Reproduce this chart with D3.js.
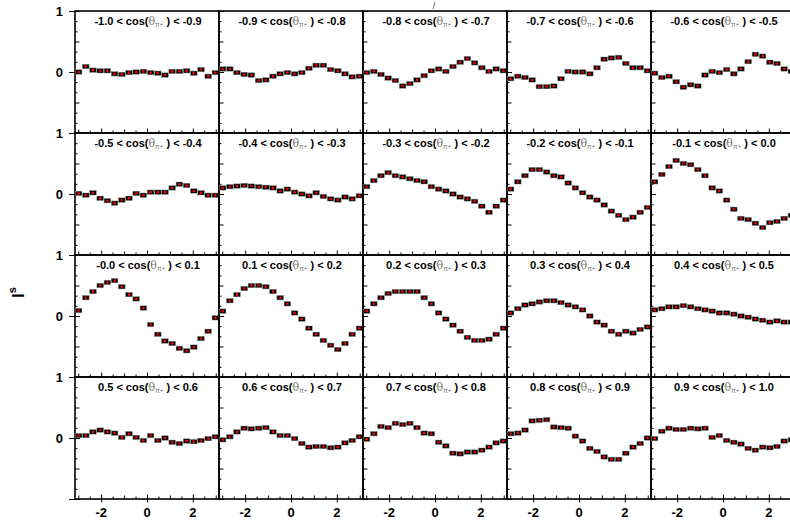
<!DOCTYPE html>
<html>
<head>
<meta charset="utf-8">
<script src="https://cdn.jsdelivr.net/npm/d3@7"></script>
<style>
  body { margin: 0; background: #fff; }
</style>
</head>
<body>
<svg id="chart" width="790" height="520"></svg>
<script>
// cos(theta) bin edges, one panel per bin
const cosLow  = ["-1.0","-0.9","-0.8","-0.7","-0.6","-0.5","-0.4","-0.3","-0.2","-0.1",
                 "-0.0","0.1","0.2","0.3","0.4","0.5","0.6","0.7","0.8","0.9"];
const cosHigh = ["-0.9","-0.8","-0.7","-0.6","-0.5","-0.4","-0.3","-0.2","-0.1","0.0",
                 "0.1","0.2","0.3","0.4","0.5","0.6","0.7","0.8","0.9","1.0"];

// I^s in 20 phi bins, per panel
const s01 = [0.00, 0.09, 0.03, 0.02, 0.02, -0.03, -0.04, -0.01, 0.00, 0.01, -0.01, -0.02, -0.05, 0.01, 0.01, 0.02, -0.02, 0.04, -0.07, -0.01];
const s02 = [0.05, 0.05, -0.01, -0.04, -0.05, -0.14, -0.13, -0.07, -0.03, -0.01, -0.03, -0.01, 0.06, 0.11, 0.11, 0.04, 0.02, -0.03, -0.08, -0.07];
const s03 = [-0.01, 0.01, -0.04, -0.10, -0.14, -0.23, -0.19, -0.13, -0.06, 0.02, 0.05, 0.01, 0.09, 0.16, 0.22, 0.15, 0.07, 0.01, 0.05, 0.02];
const s04 = [-0.11, -0.07, -0.09, -0.13, -0.24, -0.24, -0.23, -0.11, 0.01, 0.00, 0.00, -0.03, 0.07, 0.21, 0.23, 0.24, 0.14, 0.07, 0.07, 0.02];
const s05 = [-0.02, -0.09, -0.07, -0.16, -0.25, -0.21, -0.23, -0.05, 0.01, -0.01, 0.04, -0.03, 0.05, 0.17, 0.29, 0.26, 0.16, 0.14, 0.05, 0.01];
const s06 = [0.01, -0.02, 0.02, -0.07, -0.11, -0.15, -0.10, -0.07, 0.01, -0.02, 0.03, 0.03, 0.03, 0.10, 0.16, 0.14, 0.05, 0.02, -0.02, -0.02];
const s07 = [0.10, 0.12, 0.13, 0.14, 0.13, 0.12, 0.11, 0.10, 0.05, 0.08, 0.03, 0.00, -0.03, 0.02, -0.04, -0.08, -0.10, -0.05, -0.08, -0.03];
const s08 = [0.12, 0.22, 0.30, 0.35, 0.30, 0.28, 0.25, 0.22, 0.20, 0.12, 0.08, 0.05, 0.00, -0.05, -0.08, -0.12, -0.20, -0.30, -0.20, -0.10];
const s09 = [0.08, 0.20, 0.30, 0.40, 0.40, 0.36, 0.30, 0.28, 0.18, 0.10, 0.02, -0.05, -0.10, -0.18, -0.28, -0.35, -0.42, -0.38, -0.30, -0.22];
const s10 = [0.20, 0.32, 0.45, 0.55, 0.50, 0.48, 0.40, 0.30, 0.10, 0.05, -0.10, -0.25, -0.40, -0.42, -0.48, -0.55, -0.47, -0.45, -0.40, -0.35];
const s11 = [0.09, 0.30, 0.40, 0.50, 0.55, 0.58, 0.48, 0.35, 0.28, 0.13, -0.14, -0.30, -0.41, -0.45, -0.53, -0.57, -0.51, -0.37, -0.25, -0.03];
const s12 = [0.08, 0.25, 0.35, 0.45, 0.50, 0.50, 0.48, 0.40, 0.30, 0.20, 0.05, -0.05, -0.20, -0.30, -0.40, -0.48, -0.55, -0.45, -0.30, -0.20];
const s13 = [0.08, 0.20, 0.30, 0.37, 0.40, 0.40, 0.40, 0.40, 0.30, 0.20, 0.05, -0.05, -0.15, -0.25, -0.35, -0.40, -0.40, -0.38, -0.30, -0.20];
const s14 = [0.05, 0.12, 0.18, 0.20, 0.23, 0.25, 0.25, 0.22, 0.18, 0.15, 0.10, 0.00, -0.10, -0.15, -0.25, -0.30, -0.25, -0.28, -0.22, -0.18];
const s15 = [0.10, 0.12, 0.15, 0.15, 0.17, 0.15, 0.12, 0.10, 0.08, 0.05, 0.05, 0.03, 0.00, -0.02, -0.05, -0.07, -0.10, -0.08, -0.10, -0.10];
const s16 = [0.04, 0.04, 0.10, 0.13, 0.10, 0.08, 0.01, 0.07, 0.01, -0.04, 0.04, -0.04, 0.00, -0.07, -0.09, -0.05, -0.06, -0.04, -0.01, 0.02];
const s17 = [-0.03, 0.02, 0.10, 0.16, 0.15, 0.16, 0.17, 0.10, 0.04, 0.04, -0.01, -0.09, -0.15, -0.14, -0.14, -0.16, -0.15, -0.08, -0.04, 0.02];
const s18 = [-0.02, 0.07, 0.19, 0.17, 0.24, 0.22, 0.24, 0.17, 0.08, 0.07, -0.07, -0.13, -0.25, -0.26, -0.23, -0.23, -0.20, -0.15, -0.08, -0.05];
const s19 = [0.07, 0.08, 0.13, 0.28, 0.29, 0.30, 0.18, 0.17, 0.16, 0.03, -0.05, -0.17, -0.22, -0.31, -0.35, -0.35, -0.25, -0.15, -0.09, 0.00];
const s20 = [-0.01, 0.11, 0.16, 0.14, 0.14, 0.16, 0.15, 0.16, 0.01, 0.04, -0.04, -0.07, -0.10, -0.17, -0.20, -0.15, -0.16, -0.14, -0.05, -0.03];

const series = [s01, s02, s03, s04, s05, s06, s07, s08, s09, s10,
                s11, s12, s13, s14, s15, s16, s17, s18, s19, s20];

const xTickLabels = [-2, 0, 2];
const yTickLabels = [0, 1];

(function() {
  const svg = d3.select("#chart");
  const font = "'Liberation Sans', Arial, Helvetica, sans-serif";

  const left = 75, top = 11, pw = 144, ph = 122, nCols = 5;
  const nRows = Math.ceil(series.length / nCols);
  const nBins = s01.length;
  const binCenters = d3.range(nBins).map(i => -Math.PI + (i + 0.5) * 2 * Math.PI / nBins);

  // inside tick sets
  const yMinor = d3.range(-6, 7).filter(k => k % 3 !== 0).map(k => k / 6);
  const yMid = [-0.5, 0.5];
  const yMajor = [-1, 0, 1];
  const xMinor = [-2.5, -1.5, -0.5, 0.5, 1.5, 2.5];
  const xMid = [-3, -1, 1, 3];

  function clean(g) {
    g.select(".domain").remove();
    g.selectAll(".tick line").attr("stroke", "#000").attr("stroke-width", 1);
    g.selectAll(".tick text").remove();
  }

  series.forEach((vals, k) => {
    const col = k % nCols, row = Math.floor(k / nCols);
    const x0 = left + col * pw, y0 = top + row * ph;

    const x = d3.scaleLinear().domain([-Math.PI, Math.PI]).range([x0, x0 + pw]);
    const y = d3.scaleLinear().domain([-1, 1]).range([y0 + ph, y0]);

    const g = svg.append("g");

    // left axis ticks
    g.append("g").attr("transform", `translate(${x0},0)`)
      .call(d3.axisLeft(y).tickValues(yMinor).tickSize(-2.5)).call(clean);
    g.append("g").attr("transform", `translate(${x0},0)`)
      .call(d3.axisLeft(y).tickValues(yMid).tickSize(-4.5)).call(clean);
    g.append("g").attr("transform", `translate(${x0},0)`)
      .call(d3.axisLeft(y).tickValues(yMajor).tickSize(-5)).call(clean);
    if (col === 0) {
      g.append("g").attr("transform", `translate(${x0},0)`)
        .call(d3.axisLeft(y).tickValues(yMajor).tickSize(6)).call(clean);
    }

    // bottom axis ticks
    g.append("g").attr("transform", `translate(0,${y0 + ph})`)
      .call(d3.axisBottom(x).tickValues(xMinor).tickSize(-2.5)).call(clean);
    g.append("g").attr("transform", `translate(0,${y0 + ph})`)
      .call(d3.axisBottom(x).tickValues(xMid).tickSize(-3.5)).call(clean);
    g.append("g").attr("transform", `translate(0,${y0 + ph})`)
      .call(d3.axisBottom(x).tickValues(xTickLabels).tickSize(-4.5)).call(clean);
    if (row === nRows - 1) {
      g.append("g").attr("transform", `translate(0,${y0 + ph})`)
        .call(d3.axisBottom(x).tickValues(xTickLabels).tickSize(3.5)).call(clean);
    }

    // frame
    g.append("rect")
      .attr("x", x0).attr("y", y0)
      .attr("width", pw).attr("height", ph)
      .attr("fill", "none").attr("stroke", "#000").attr("stroke-width", 1.6);

    // y tick labels on first column
    if (col === 0) {
      g.selectAll(".ylab").data(yTickLabels).enter().append("text")
        .attr("x", x0 - 12).attr("y", d => y(d))
        .attr("dy", "0.36em")
        .attr("text-anchor", "end")
        .style("font-family", font).style("font-weight", "bold").style("font-size", "13px")
        .text(d => d);
    }

    // x tick labels on bottom row
    if (row === nRows - 1) {
      g.selectAll(".xlab").data(xTickLabels).enter().append("text")
        .attr("x", d => x(d)).attr("y", y0 + ph + 18)
        .attr("text-anchor", "middle")
        .style("font-family", font).style("font-weight", "bold").style("font-size", "13px")
        .text(d => d);
    }

    // panel label
    const lab = g.append("text")
      .attr("x", x0 + pw / 2 + 1).attr("y", y0 + 14)
      .attr("text-anchor", "middle")
      .style("font-family", font).style("font-size", "11px").style("font-weight", "bold");
    lab.append("tspan").text(`${cosLow[k]} < cos(`);
    lab.append("tspan").text("\u03b8").attr("fill", "#777").style("font-weight", "normal").style("font-family", "'DejaVu Serif', serif");
    lab.append("tspan").text("\u03c0+").attr("fill", "#777").style("font-weight", "normal")
      .style("font-size", "6.5px").attr("dy", 2);
    lab.append("tspan").text(` ) < ${cosHigh[k]}`).attr("dy", -2);

    // points
    const pts = g.selectAll(".pt").data(vals).enter().append("g")
      .attr("transform", (d, i) => `translate(${x(binCenters[i])},${y(d)})`);
    pts.append("rect")
      .attr("x", -3.3).attr("y", -2.2).attr("width", 6.6).attr("height", 4.4)
      .attr("fill", "#000").attr("stroke", "#888").attr("stroke-width", 0.5);
    pts.append("circle").attr("r", 1.3).attr("fill", "#ff0000");
  });

  // y-axis title
  const yt = svg.append("text")
    .attr("transform", "translate(23.5,298) rotate(-90)")
    .attr("text-anchor", "start")
    .style("font-family", font).style("font-weight", "bold").style("font-size", "17px");
  yt.append("tspan").text("I");
  yt.append("tspan").text("s").style("font-size", "11px").attr("dy", -8);

  // remnant of the title at the top
  svg.append("text")
    .attr("x", 434).attr("y", 9)
    .attr("text-anchor", "middle")
    .style("font-family", font).style("font-size", "9px").attr("fill", "#333")
    .text("/");
})();
</script>
</body>
</html>
